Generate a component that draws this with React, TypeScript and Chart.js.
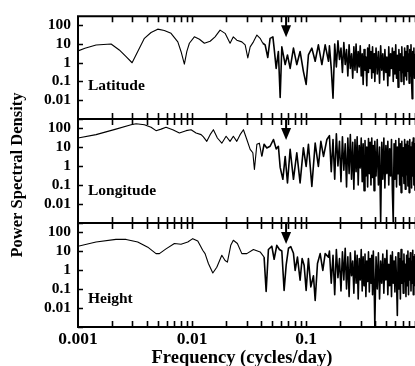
import React, { useEffect, useRef } from 'react';
import Chart from 'chart.js/auto';

// ---------- axis / label data ----------
const xTickValues = [0.001, 0.01, 0.1];
const xTickLabels = ['0.001', '0.01', '0.1'];
const yTickValues = [0.01, 0.1, 1, 10, 100];
const yTickLabels = ['0.01', '0.1', '1', '10', '100'];
const yDecades = [0.001, 0.01, 0.1, 1, 10, 100];
const panelNames = ['Latitude', 'Longitude', 'Height'];
const xTitle = 'Frequency (cycles/day)';
const yTitle = 'Power Spectral Density';
const markerFreq = 0.0667;

// ---------- low-frequency parts (cycles/day, PSD) ----------
const latFreqLo = [
  0.001, 0.00115, 0.00144, 0.00195, 0.0023, 0.00264, 0.00298, 0.00334, 0.00382, 0.00437,
  0.005, 0.00571, 0.00654, 0.0075, 0.008, 0.00856, 0.009, 0.00947, 0.01047, 0.0116,
  0.01282, 0.0144, 0.0159, 0.0176, 0.01947, 0.02153, 0.023, 0.02466, 0.0273, 0.0292,
  0.0308, 0.0323, 0.0345, 0.037, 0.0395, 0.0417, 0.0437, 0.0461, 0.0483, 0.0511,
  0.0524, 0.0546, 0.0571, 0.0592, 0.0612, 0.0655, 0.0686, 0.0724, 0.0774, 0.0828,
  0.0885, 0.0946, 0.1, 0.1047, 0.1122, 0.12, 0.128, 0.1374, 0.1468, 0.157,
];
const latPsdLo = [
  4.3, 6, 8.9, 10, 4.8, 2.1, 1, 4, 20, 41,
  62, 53, 37, 13, 4, 0.85, 4, 11, 24, 18,
  11, 14, 24, 55, 37, 11, 24, 16, 13, 9,
  1.8, 7, 13, 30, 20, 11, 9, 1.9, 20, 24,
  6, 0.5, 4, 0.014, 7, 0.8, 2.6, 0.5, 6, 0.8,
  4, 0.35, 0.07, 2.6, 6, 1.2, 9, 0.8, 9, 1.2,
];

const lonFreqLo = [
  0.001, 0.00144, 0.00215, 0.00292, 0.00323, 0.00382, 0.00437, 0.00483, 0.00535, 0.00591,
  0.00677, 0.00774, 0.00886, 0.0098, 0.01084, 0.012, 0.01257, 0.01346, 0.0144, 0.01538,
  0.01667, 0.01823, 0.01987, 0.02153, 0.023, 0.02466, 0.02636, 0.0282, 0.0302, 0.0323,
  0.0341, 0.0352, 0.037, 0.0389, 0.0408, 0.0428, 0.0452, 0.0483, 0.0517, 0.0546,
  0.0571, 0.0592, 0.0625, 0.0655, 0.0686, 0.0724, 0.0774, 0.0828, 0.0885, 0.0946,
  0.1, 0.1047, 0.1122, 0.12, 0.128, 0.1346, 0.142, 0.152,
];
const lonPsdLo = [
  30, 45, 88, 150, 170, 150, 110, 73, 88, 110,
  82, 55, 73, 82, 55, 45, 34, 20, 45, 82,
  30, 16, 37, 20, 37, 20, 45, 82, 25, 7.6,
  5, 0.67, 14, 16, 3.2, 14, 9, 11, 25, 8,
  11, 0.85, 0.2, 3.2, 0.13, 7.6, 0.2, 5, 0.13, 9,
  0.95, 14, 0.085, 16, 0.95, 20, 3.2, 25,
];

const hgtFreqLo = [
  0.001, 0.00144, 0.00215, 0.00264, 0.00334, 0.00409, 0.00483, 0.00517, 0.00591, 0.007,
  0.008, 0.00917, 0.01014, 0.01122, 0.01175, 0.0124, 0.013, 0.0139, 0.0152, 0.01647,
  0.01823, 0.01947, 0.0204, 0.02183, 0.023, 0.02496, 0.0273, 0.0302, 0.0345, 0.0395,
  0.0428, 0.0446, 0.0467, 0.05, 0.0524, 0.0553, 0.0583, 0.0612, 0.0641, 0.0668,
  0.07, 0.0734, 0.0774, 0.0801, 0.0839, 0.0885, 0.0922, 0.096, 0.1, 0.1047,
  0.1099, 0.1159, 0.12, 0.1257, 0.1327, 0.14, 0.1468, 0.157,
];
const hgtPsdLo = [
  18, 30, 41, 41, 30, 16, 7.3, 7.3, 13, 25,
  23, 30, 45, 34, 20, 11, 7.3, 2.2, 0.7, 1.4,
  6, 3.2, 2.6, 20, 37, 25, 7.3, 7.3, 12, 9,
  4.8, 0.074, 12, 18, 3.7, 20, 12, 10, 0.085, 1.8,
  14, 17, 7.6, 0.95, 4.8, 0.29, 4, 1.8, 0.085, 4,
  0.13, 0.5, 0.025, 2.2, 7.3, 0.95, 7.3, 4.8,
];

// ---------- high-frequency part (shared frequency grid) ----------
const hfFreq = [
  0.16, 0.166, 0.172, 0.178, 0.184, 0.19, 0.196, 0.202, 0.208, 0.214,
  0.22, 0.226, 0.232, 0.238, 0.244, 0.25, 0.256, 0.262, 0.268, 0.274,
  0.28, 0.286, 0.292, 0.298, 0.304, 0.31, 0.316, 0.322, 0.328, 0.334,
  0.34, 0.346, 0.352, 0.358, 0.364, 0.37, 0.376, 0.382, 0.388, 0.394,
  0.4, 0.41, 0.42, 0.43, 0.44, 0.45, 0.46, 0.47, 0.48, 0.49,
  0.5, 0.51, 0.52, 0.53, 0.54, 0.55, 0.56, 0.57, 0.58, 0.59,
  0.6, 0.61, 0.62, 0.63, 0.64, 0.65, 0.66, 0.67, 0.68, 0.69,
  0.7, 0.71, 0.72, 0.73, 0.74, 0.75, 0.76, 0.77, 0.78, 0.79,
  0.8, 0.81, 0.82, 0.83, 0.84, 0.85, 0.86, 0.87, 0.88, 0.89,
  0.9,
];
const latPsdHf = [
  8, 0.5, 0.013, 10, 0.6, 15, 1.5, 6, 0.3, 12,
  0.8, 5, 0.2, 9, 0.5, 3, 0.15, 7, 0.4, 10,
  0.3, 4, 0.6, 8, 0.2, 3, 0.07, 5, 0.4, 2,
  0.06, 6, 0.3, 9, 0.5, 4, 0.15, 7, 0.3, 3,
  0.1, 6, 0.25, 4, 0.08, 8, 0.4, 3, 0.12, 5,
  0.3, 2, 0.06, 7, 0.2, 3, 0.5, 6, 0.1, 4,
  0.25, 9, 0.15, 2.5, 0.05, 5, 0.4, 3, 0.1, 7,
  0.3, 2, 0.07, 6, 0.2, 4, 0.12, 8, 0.35, 3,
  0.08, 5, 0.2, 9, 0.1, 0.012, 4, 0.3, 6, 0.15,
  3,
];
const lonPsdHf = [
  40, 0.5, 25, 0.2, 50, 1, 20, 0.15, 35, 0.6,
  15, 0.08, 30, 0.4, 45, 0.2, 18, 0.06, 25, 0.5,
  35, 0.1, 12, 0.8, 30, 0.15, 15, 0.05, 22, 0.3,
  10, 0.08, 28, 0.4, 18, 0.1, 30, 0.25, 12, 0.05,
  20, 0.3, 25, 0.1, 10, 0.0011, 18, 0.2, 30, 0.07,
  12, 0.4, 20, 0.1, 8, 0.3, 25, 0.05, 0.0011, 15,
  0.2, 22, 0.08, 10, 0.4, 28, 0.1, 15, 0.04, 20,
  0.3, 9, 0.12, 25, 0.06, 14, 0.35, 20, 0.09, 12,
  0.04, 25, 0.2, 10, 0.07, 18, 0.3, 30, 0.1, 15,
  0.05,
];
const hgtPsdHf = [
  10, 0.2, 6, 0.05, 12, 0.4, 4, 0.08, 9, 0.3,
  14, 0.1, 5, 0.04, 8, 0.5, 3, 0.06, 10, 0.2,
  6, 0.03, 4, 0.3, 12, 0.08, 5, 0.15, 7, 0.04,
  3, 0.25, 9, 0.07, 4, 0.2, 6, 0.05, 10, 0.3,
  0.0011, 5, 0.1, 8, 0.03, 3, 0.2, 7, 0.06, 4,
  0.3, 11, 0.05, 2, 0.15, 6, 0.04, 9, 0.2, 3,
  0.07, 5, 0.3, 0.004, 8, 0.1, 4, 0.03, 12, 0.2,
  3, 0.06, 7, 0.25, 2, 0.04, 6, 0.15, 10, 0.05,
  4, 0.3, 8, 0.08, 3, 0.2, 11, 0.05, 5, 0.15,
  7,
];

// ---------- layout ----------
const W = 415;
const H = 366;
const LEFT = 78;
const panelTop = [15, 119, 223];
const panelBottom = [119, 223, 327];
const labelOffset = [74, 76, 80];
const SERIF = '"Liberation Serif", "Times New Roman", serif';

const toPoints = (fs: number[], vs: number[]) => fs.map((f, i) => ({ x: f, y: vs[i] }));

const series = [
  toPoints(latFreqLo, latPsdLo).concat(toPoints(hfFreq, latPsdHf)),
  toPoints(lonFreqLo, lonPsdLo).concat(toPoints(hfFreq, lonPsdHf)),
  toPoints(hgtFreqLo, hgtPsdLo).concat(toPoints(hfFreq, hgtPsdHf)),
];

function makeDecor(idx: number) {
  return {
    id: 'decor' + idx,
    afterDraw(chart: any) {
      const { ctx, chartArea: a, scales } = chart;
      const xs = scales.x;
      const ys = scales.y;
      ctx.save();
      ctx.strokeStyle = '#000';
      ctx.fillStyle = '#000';
      // frame
      ctx.lineWidth = 2;
      ctx.beginPath();
      ctx.moveTo(a.left - 1, a.top);
      ctx.lineTo(a.right, a.top);
      ctx.moveTo(a.left - 1, a.bottom);
      ctx.lineTo(a.right, a.bottom);
      ctx.moveTo(a.left, a.top);
      ctx.lineTo(a.left, a.bottom);
      ctx.stroke();
      // x ticks (inward on top and bottom)
      ctx.lineWidth = 1.6;
      ctx.beginPath();
      for (const d of xTickValues) {
        for (let m = 1; m <= 9; m++) {
          const v = m * d;
          if (v <= xs.min * 1.0001 || v > xs.max) continue;
          const px = Math.round(xs.getPixelForValue(v)) + 0.5;
          ctx.moveTo(px, a.top);
          ctx.lineTo(px, a.top + 6);
          ctx.moveTo(px, a.bottom);
          ctx.lineTo(px, a.bottom - 6);
        }
      }
      // y decade ticks
      for (const v of yDecades) {
        const py = Math.round(ys.getPixelForValue(v)) + 0.5;
        ctx.moveTo(a.left, py);
        ctx.lineTo(a.left + 5, py);
      }
      ctx.stroke();
      // arrow marker
      const ax = xs.getPixelForValue(markerFreq);
      ctx.lineWidth = 2;
      ctx.beginPath();
      ctx.moveTo(ax, a.top);
      ctx.lineTo(ax, a.top + 11);
      ctx.stroke();
      ctx.beginPath();
      ctx.moveTo(ax - 5, a.top + 9);
      ctx.lineTo(ax + 5, a.top + 9);
      ctx.lineTo(ax, a.top + 21);
      ctx.closePath();
      ctx.fill();
      // panel label
      ctx.font = 'bold 15.5px ' + SERIF;
      ctx.textAlign = 'left';
      ctx.textBaseline = 'alphabetic';
      ctx.fillText(panelNames[idx], 88, a.top + labelOffset[idx]);
      // y title (once)
      if (idx === 1) {
        ctx.save();
        ctx.translate(22, 175);
        ctx.rotate(-Math.PI / 2);
        ctx.font = 'bold 16.5px ' + SERIF;
        ctx.textAlign = 'center';
        ctx.fillText(yTitle, 0, 0);
        ctx.restore();
      }
      // x tick labels and title (bottom panel)
      if (idx === 2) {
        ctx.font = 'bold 17.5px ' + SERIF;
        ctx.textAlign = 'center';
        xTickValues.forEach((v, i) => {
          ctx.fillText(xTickLabels[i], xs.getPixelForValue(v), a.bottom + 17);
        });
        ctx.font = 'bold 18.5px ' + SERIF;
        ctx.fillText(xTitle, 242, 363);
      }
      ctx.restore();
    },
  };
}

function makeConfig(idx: number): any {
  return {
    type: 'line',
    data: {
      datasets: [
        {
          data: series[idx],
          borderColor: '#000',
          borderWidth: 1.1,
          borderJoinStyle: 'round',
          pointRadius: 0,
          fill: false,
          tension: 0,
          segment: {
            borderWidth: (c: any) => (c.p0.parsed.x >= 0.04 ? 1.6 : 1.1),
          },
        },
      ],
    },
    options: {
      responsive: false,
      animation: false,
      events: [],
      layout: { padding: { top: panelTop[idx], bottom: H - panelBottom[idx], left: 0, right: 0 } },
      plugins: { legend: { display: false }, tooltip: { enabled: false } },
      scales: {
        x: { type: 'logarithmic', min: 0.001, max: 0.9, display: false },
        y: {
          type: 'logarithmic',
          min: 0.001,
          max: 300,
          grid: { display: false, drawTicks: false },
          border: { display: false },
          ticks: {
            autoSkip: false,
            color: '#000',
            padding: 7,
            font: { family: SERIF, size: 15.5, weight: 'bold' },
            callback: (_v: any, i: number) => yTickLabels[i],
          },
          afterBuildTicks: (s: any) => {
            s.ticks = yTickValues.map((v) => ({ value: v }));
          },
          afterFit: (s: any) => {
            s.width = LEFT;
          },
        },
      },
    },
    plugins: [makeDecor(idx)],
  };
}

export default function App() {
  const r0 = useRef<HTMLCanvasElement>(null);
  const r1 = useRef<HTMLCanvasElement>(null);
  const r2 = useRef<HTMLCanvasElement>(null);
  useEffect(() => {
    const refs = [r0, r1, r2];
    const charts = refs.map((r, i) => new Chart(r.current as HTMLCanvasElement, makeConfig(i)));
    return () => charts.forEach((c) => c.destroy());
  }, []);
  const cs: React.CSSProperties = { position: 'absolute', left: 0, top: 0 };
  return (
    <div style={{ position: 'absolute', left: 0, top: 0, width: W, height: H, background: '#fff' }}>
      <canvas ref={r0} width={W} height={H} style={cs} />
      <canvas ref={r1} width={W} height={H} style={cs} />
      <canvas ref={r2} width={W} height={H} style={cs} />
    </div>
  );
}
